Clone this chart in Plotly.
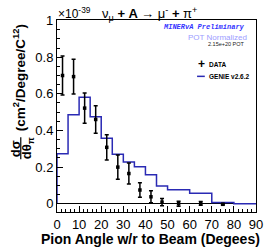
import plotly.graph_objects as go

# GENIE prediction (histogram bins, deg) and values (x1e-39 cm^2/deg/C12)
genie_edges = [0, 5, 10, 15, 20, 25, 30, 35, 40, 45, 50, 60, 70, 80, 90]
genie_vals = [0.273, 0.486, 0.581, 0.475, 0.357, 0.270, 0.228, 0.202, 0.158, 0.097, 0.077, 0.058, 0.007, 0.0]

# Data points
data_x = [2.5, 7.5, 12.5, 17.5, 22.5, 27.5, 32.5, 37.5, 42.5, 47.5, 55, 65, 75]
data_y = [0.700, 0.694, 0.522, 0.460, 0.308, 0.200, 0.165, 0.075, 0.038, 0.009, 0.0, 0.002, -0.003]
data_err = [0.107, 0.095, 0.082, 0.075, 0.069, 0.066, 0.057, 0.040, 0.033, 0.020, 0.014, 0.010, 0.004]

y_tickvals = [0, 0.2, 0.4, 0.6, 0.8]
y_ticktext = ["0", "0.2", "0.4", "0.6", "0.8"]
y_top_val = 1.0
y_top_text = "1"
x_tickvals = [0, 10, 20, 30, 40, 50, 60, 70, 80, 90]

FONT = "Liberation Sans, Arial, sans-serif"

# build the step outline from the bin edges
hx = [genie_edges[0]]
hy = [0.0]
for i, v in enumerate(genie_vals):
    hx += [genie_edges[i], genie_edges[i + 1]]
    hy += [v, v]
hx.append(genie_edges[-1])
hy.append(0.0)

fig = go.Figure()
fig.add_trace(go.Scatter(x=hx, y=hy, mode="lines",
                         line=dict(color="#2a2ab4", width=1.5),
                         showlegend=False, hoverinfo="skip"))
fig.add_trace(go.Scatter(x=data_x, y=data_y, mode="markers",
                         marker=dict(symbol="square", size=3.5, color="black"),
                         error_y=dict(type="data", array=data_err, color="black",
                                      thickness=1.5, width=2),
                         showlegend=False))

W, H = 270, 247
L, R, T, B = 57, 7, 19.5, 35
pw, ph = W - L - R, H - T - B


def px(x):
    return (x - L) / pw


def py(y):
    return (H - B - y) / ph


ann = []
ann.append(dict(text=y_top_text, x=px(55), y=y_top_val, xref="paper", yref="y", showarrow=False,
                xanchor="right", yanchor="middle", font=dict(size=13, family=FONT, color="black")))
ann.append(dict(text="ν<sub>μ</sub> <b>+ A →</b> μ<sup>-</sup> <b>+</b> π<sup>+</sup>",
                x=px(153), y=py(13), xref="paper", yref="paper", showarrow=False,
                xanchor="center", yanchor="middle", font=dict(size=13, family=FONT, color="black")))
ann.append(dict(text="×10<sup>-39</sup>", x=px(56), y=py(12), xref="paper", yref="paper",
                showarrow=False, xanchor="left", yanchor="middle",
                font=dict(size=12, family=FONT, color="black")))
ann.append(dict(text="<b><i>MINERvA Preliminary</i></b>", x=px(254), y=py(26.7), xref="paper", yref="paper",
                showarrow=False, xanchor="right", yanchor="middle",
                font=dict(size=7, family="Liberation Mono, Courier New, monospace", color="#3434ff")))
ann.append(dict(text="POT Normalized", x=px(256), y=py(37), xref="paper", yref="paper",
                showarrow=False, xanchor="right", yanchor="middle",
                font=dict(size=8, family=FONT, color="#9c9cff")))
ann.append(dict(text="2.15e+20 POT", x=px(254), y=py(43.7), xref="paper", yref="paper",
                showarrow=False, xanchor="right", yanchor="middle",
                font=dict(size=5.5, family=FONT, color="#222222")))
ann.append(dict(text="<b>+</b>", x=px(206.5), y=py(64), xref="paper", yref="paper",
                showarrow=False, xanchor="center", yanchor="middle",
                font=dict(size=12, family=FONT, color="black")))
ann.append(dict(text="<b>DATA</b>", x=px(212), y=py(64), xref="paper", yref="paper",
                showarrow=False, xanchor="left", yanchor="middle",
                font=dict(size=6.5, family=FONT, color="black")))
ann.append(dict(text="<b>GENIE v2.6.2</b>", x=px(212), y=py(76), xref="paper", yref="paper",
                showarrow=False, xanchor="left", yanchor="middle",
                font=dict(size=6.5, family=FONT, color="black")))
ann.append(dict(text="<b>Pion Angle w/r to Beam (Degees)</b>", x=px(154), y=py(239), xref="paper", yref="paper",
                showarrow=False, xanchor="center", yanchor="middle",
                font=dict(size=14, family=FONT, color="black")))
ann.append(dict(text="<b>(cm<sup>2</sup>/Degree/C<sup>12</sup>)</b>", x=px(18), y=py(77.5), xref="paper", yref="paper",
                showarrow=False, xanchor="center", yanchor="middle", textangle=-90,
                font=dict(size=13.5, family=FONT, color="black")))
ann.append(dict(text="<b>dσ</b>", x=px(13.5), y=py(148), xref="paper", yref="paper",
                showarrow=False, xanchor="center", yanchor="middle", textangle=-90,
                font=dict(size=13, family=FONT, color="black")))
ann.append(dict(text="<b>dθ<sub>π</sub></b>", x=px(26), y=py(148), xref="paper", yref="paper",
                showarrow=False, xanchor="center", yanchor="middle", textangle=-90,
                font=dict(size=13, family=FONT, color="black")))

shapes = [
    dict(type="line", xref="paper", yref="paper", x0=px(19.5), x1=px(19.5), y0=py(137), y1=py(159),
         line=dict(color="black", width=1.2)),
    dict(type="line", xref="paper", yref="paper", x0=px(202), x1=px(210), y0=py(76), y1=py(76),
         line=dict(color="#2a2ab4", width=1.5)),
]

fig.update_layout(
    width=W, height=H,
    margin=dict(l=L, r=R, t=T, b=B),
    paper_bgcolor="white", plot_bgcolor="white",
    font=dict(family=FONT, color="black"),
    annotations=ann, shapes=shapes, showlegend=False,
    xaxis=dict(range=[0, 90.0001], tickvals=x_tickvals, ticks="inside", ticklen=6, tickwidth=1,
               tickcolor="black", showline=True, linecolor="black", linewidth=1, mirror=True,
               showgrid=False, zeroline=False, tickfont=dict(size=13), ticklabeloverflow="allow",
               minor=dict(dtick=2, ticks="inside", ticklen=3, tickcolor="black", showgrid=False)),
    yaxis=dict(range=[-0.045, 1.003], tickvals=y_tickvals, ticktext=y_ticktext, ticks="inside", ticklen=6,
               tickwidth=1, tickcolor="black", showline=True, linecolor="black", linewidth=1, mirror=True,
               showgrid=False, zeroline=True, zerolinecolor="black", zerolinewidth=1,
               tickfont=dict(size=13), ticklabeloverflow="allow",
               minor=dict(dtick=0.05, tick0=0, ticks="inside", ticklen=3, tickcolor="black", showgrid=False)),
)

fig.write_html("out.html", config={"responsive": False, "displayModeBar": False},
               post_script="document.body.style.margin='0';document.body.style.overflow='hidden';")
